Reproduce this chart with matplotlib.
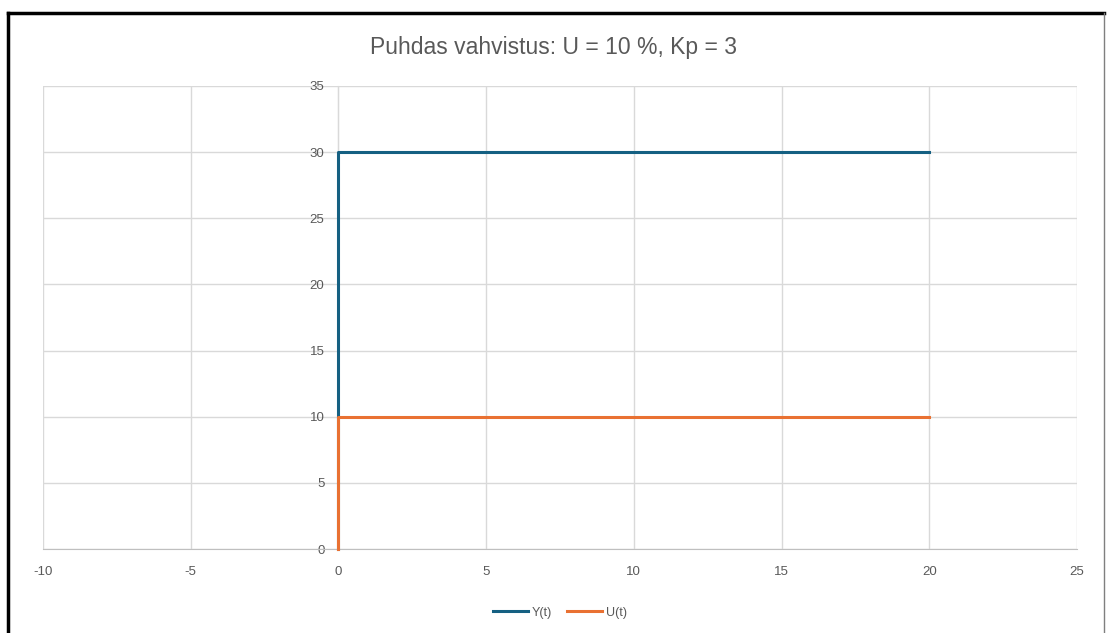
import matplotlib.pyplot as plt
from matplotlib.lines import Line2D

# step response data
t_y = [0, 0, 20]
y_vals = [0, 30, 30]
t_u = [0, 0, 20]
u_vals = [0, 10, 10]

x_ticks = [-10, -5, 0, 5, 10, 15, 20, 25]
y_ticks = [0, 5, 10, 15, 20, 25, 30, 35]

plt.rcParams['font.family'] = ['Liberation Sans', 'DejaVu Sans']
plt.rcParams['axes.unicode_minus'] = False

fig = plt.figure(figsize=(11.07, 6.33), dpi=100)
ax = fig.add_axes([43 / 1107, 84 / 633, 1034 / 1107, 463 / 633])

ax.plot(t_y, y_vals, color='#156082', lw=2.2, label='Y(t)', zorder=4, clip_on=False)
ax.plot(t_u, u_vals, color='#E97132', lw=2.2, label='U(t)', zorder=5, clip_on=False)

ax.set_xlim(-10, 25)
ax.set_ylim(0, 35)
ax.set_xticks(x_ticks)
ax.set_yticks(y_ticks)
ax.grid(True, color='#d9d9d9', lw=1)
ax.set_axisbelow(True)
for s in ax.spines.values():
    s.set_visible(False)
ax.spines['left'].set_visible(True)
ax.spines['left'].set_position(('data', 0))
ax.spines['left'].set_color('#d9d9d9')
ax.spines['bottom'].set_visible(True)
ax.spines['bottom'].set_color('#bfbfbf')
ax.tick_params(length=0, colors='#595959', labelsize=9.5)
ax.tick_params(axis='x', pad=12)
ax.tick_params(axis='y', pad=10)

fig.text(0.5, 0.925, 'Puhdas vahvistus: U = 10 %, Kp = 3', ha='center', va='center',
         fontsize=16.5, color='#595959')

ax.legend(loc='upper center', bbox_to_anchor=(0.5, -0.1), ncol=2, frameon=False,
          fontsize=9, labelcolor='#595959', handlelength=2.8, handletextpad=0.3,
          columnspacing=1.2)

# outer chart border: black top/left, grey right
W, H = 1107, 633
fig.lines.append(Line2D([8 / W, 8 / W], [0, 1 - 13 / H], transform=fig.transFigure,
                        color='black', lw=2.5))
fig.lines.append(Line2D([8 / W, 1104 / W], [1 - 13 / H, 1 - 13 / H], transform=fig.transFigure,
                        color='black', lw=2.5))
fig.lines.append(Line2D([1104 / W, 1104 / W], [0, 1 - 13 / H], transform=fig.transFigure,
                        color='#7f7f7f', lw=1))

fig.savefig('out.png', dpi=100)
